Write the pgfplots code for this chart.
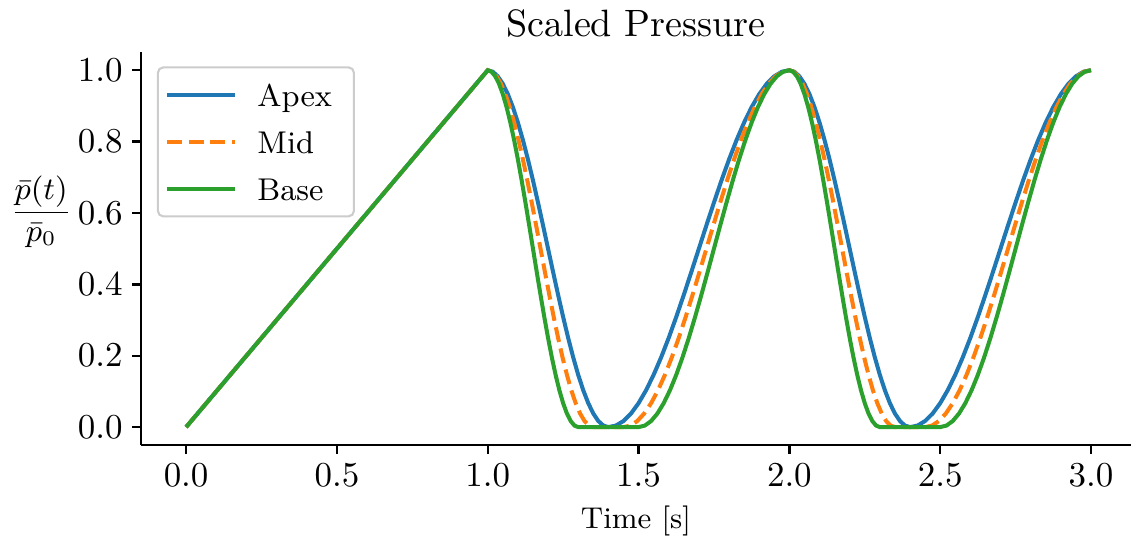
\documentclass[border=0pt]{standalone}
\usepackage{pgfplots}
\pgfplotsset{compat=1.18}
\definecolor{tabblue}{HTML}{1F77B4}
\definecolor{taborange}{HTML}{FF7F0E}
\definecolor{tabgreen}{HTML}{2CA02C}
\begin{document}
\begin{tikzpicture}
\begin{axis}[
  scale only axis,
  width=283.1pt, height=112.3pt,
  xmin=-0.149, xmax=3.132, ymin=-0.05, ymax=1.05,
  axis x line*=bottom, axis y line*=left,
  axis line style={line width=0.7pt},
  tick align=outside, major tick length=2.5pt,
  tick style={line width=0.7pt, black},
  xtick={0,0.5,1,1.5,2,2.5,3},
  ytick={0,0.2,0.4,0.6,0.8,1},
  xticklabel style={inner ysep=2.8pt, /pgf/number format/.cd,fixed,fixed zerofill,precision=1},
  yticklabel style={inner xsep=2.6pt, /pgf/number format/.cd,fixed,fixed zerofill,precision=1},
  every axis title shift=0pt,
  title={Scaled Pressure},
  title style={at={(axis description cs:0.5,1)}, anchor=base, yshift=4.6pt, inner ysep=2.7pt, font=\fontsize{10.9}{13}\selectfont},
  xlabel={Time [s]},
  xlabel style={at={(axis description cs:0.5,0)}, anchor=base, yshift=-24pt, inner ysep=1.4pt, font=\fontsize{8.6}{10}\selectfont},
  ylabel={$\displaystyle\frac{\bar{p}(t)}{\bar{p}_0}$},
  ylabel style={rotate=-90, at={(axis description cs:-0.101,0.5)}, anchor=south, inner xsep=3pt, inner ysep=0pt, font=\fontsize{9}{11}\selectfont},
  legend cell align=left,
  legend style={at={(axis description cs:0,1)}, anchor=north west, xshift=4.5pt, yshift=-4pt,
    draw=black!20, line width=0.6pt, rounded corners=1.5pt, inner xsep=2pt, inner ysep=2.65pt,
    row sep=2.9pt, column sep=5.8pt,
    font=\fontsize{9}{11}\selectfont,
    nodes={inner sep=0pt, text height=8.5pt, text depth=2pt, text width=25.6pt}},
  legend image code/.code={\draw[#1] (0pt,0pt) -- (19.5pt,0pt);},
]
\addplot[tabblue, line width=1.15pt] coordinates {
(0,0) (1,1)
(1.01667,0.99572) (1.03333,0.98296) (1.05,0.96194) (1.06667,0.93301) (1.08333,0.89668) (1.1,0.85355) (1.11667,0.80438) (1.13333,0.75) (1.15,0.69134) (1.16667,0.62941) (1.18333,0.56526) (1.2,0.5) (1.21667,0.43474) (1.23333,0.37059) (1.25,0.30866) (1.26667,0.25) (1.28333,0.19562) (1.3,0.14645) (1.31667,0.10332) (1.33333,0.06699) (1.35,0.03806) (1.36667,0.01704) (1.38333,0.00428) (1.4,0)
(1.425,0.00428) (1.45,0.01704) (1.475,0.03806) (1.5,0.06699) (1.525,0.10332) (1.55,0.14645) (1.575,0.19562) (1.6,0.25) (1.625,0.30866) (1.65,0.37059) (1.675,0.43474) (1.7,0.5) (1.725,0.56526) (1.75,0.62941) (1.775,0.69134) (1.8,0.75) (1.825,0.80438) (1.85,0.85355) (1.875,0.89668) (1.9,0.93301) (1.925,0.96194) (1.95,0.98296) (1.975,0.99572) (2,1)
(2.01667,0.99572) (2.03333,0.98296) (2.05,0.96194) (2.06667,0.93301) (2.08333,0.89668) (2.1,0.85355) (2.11667,0.80438) (2.13333,0.75) (2.15,0.69134) (2.16667,0.62941) (2.18333,0.56526) (2.2,0.5) (2.21667,0.43474) (2.23333,0.37059) (2.25,0.30866) (2.26667,0.25) (2.28333,0.19562) (2.3,0.14645) (2.31667,0.10332) (2.33333,0.06699) (2.35,0.03806) (2.36667,0.01704) (2.38333,0.00428) (2.4,0)
(2.425,0.00428) (2.45,0.01704) (2.475,0.03806) (2.5,0.06699) (2.525,0.10332) (2.55,0.14645) (2.575,0.19562) (2.6,0.25) (2.625,0.30866) (2.65,0.37059) (2.675,0.43474) (2.7,0.5) (2.725,0.56526) (2.75,0.62941) (2.775,0.69134) (2.8,0.75) (2.825,0.80438) (2.85,0.85355) (2.875,0.89668) (2.9,0.93301) (2.925,0.96194) (2.95,0.98296) (2.975,0.99572) (3,1)
};
\addlegendentry{Apex}
\addplot[taborange, line width=1.15pt, dash pattern=on 4.3pt off 1.9pt] coordinates {
(0,0) (1,1)
(1.01458,0.99572) (1.02917,0.98296) (1.04375,0.96194) (1.05833,0.93301) (1.07292,0.89668) (1.0875,0.85355) (1.10208,0.80438) (1.11667,0.75) (1.13125,0.69134) (1.14583,0.62941) (1.16042,0.56526) (1.175,0.5) (1.18958,0.43474) (1.20417,0.37059) (1.21875,0.30866) (1.23333,0.25) (1.24792,0.19562) (1.2625,0.14645) (1.27708,0.10332) (1.29167,0.06699) (1.30625,0.03806) (1.32083,0.01704) (1.33542,0.00428) (1.35,0)
(1.45,0)
(1.47292,0.00428) (1.49583,0.01704) (1.51875,0.03806) (1.54167,0.06699) (1.56458,0.10332) (1.5875,0.14645) (1.61042,0.19562) (1.63333,0.25) (1.65625,0.30866) (1.67917,0.37059) (1.70208,0.43474) (1.725,0.5) (1.74792,0.56526) (1.77083,0.62941) (1.79375,0.69134) (1.81667,0.75) (1.83958,0.80438) (1.8625,0.85355) (1.88542,0.89668) (1.90833,0.93301) (1.93125,0.96194) (1.95417,0.98296) (1.97708,0.99572) (2,1)
(2.01458,0.99572) (2.02917,0.98296) (2.04375,0.96194) (2.05833,0.93301) (2.07292,0.89668) (2.0875,0.85355) (2.10208,0.80438) (2.11667,0.75) (2.13125,0.69134) (2.14583,0.62941) (2.16042,0.56526) (2.175,0.5) (2.18958,0.43474) (2.20417,0.37059) (2.21875,0.30866) (2.23333,0.25) (2.24792,0.19562) (2.2625,0.14645) (2.27708,0.10332) (2.29167,0.06699) (2.30625,0.03806) (2.32083,0.01704) (2.33542,0.00428) (2.35,0)
(2.45,0)
(2.47292,0.00428) (2.49583,0.01704) (2.51875,0.03806) (2.54167,0.06699) (2.56458,0.10332) (2.5875,0.14645) (2.61042,0.19562) (2.63333,0.25) (2.65625,0.30866) (2.67917,0.37059) (2.70208,0.43474) (2.725,0.5) (2.74792,0.56526) (2.77083,0.62941) (2.79375,0.69134) (2.81667,0.75) (2.83958,0.80438) (2.8625,0.85355) (2.88542,0.89668) (2.90833,0.93301) (2.93125,0.96194) (2.95417,0.98296) (2.97708,0.99572) (3,1)
};
\addlegendentry{Mid}
\addplot[tabgreen, line width=1.15pt] coordinates {
(0,0) (1,1)
(1.0125,0.99572) (1.025,0.98296) (1.0375,0.96194) (1.05,0.93301) (1.0625,0.89668) (1.075,0.85355) (1.0875,0.80438) (1.1,0.75) (1.1125,0.69134) (1.125,0.62941) (1.1375,0.56526) (1.15,0.5) (1.1625,0.43474) (1.175,0.37059) (1.1875,0.30866) (1.2,0.25) (1.2125,0.19562) (1.225,0.14645) (1.2375,0.10332) (1.25,0.06699) (1.2625,0.03806) (1.275,0.01704) (1.2875,0.00428) (1.3,0)
(1.5,0)
(1.52083,0.00428) (1.54167,0.01704) (1.5625,0.03806) (1.58333,0.06699) (1.60417,0.10332) (1.625,0.14645) (1.64583,0.19562) (1.66667,0.25) (1.6875,0.30866) (1.70833,0.37059) (1.72917,0.43474) (1.75,0.5) (1.77083,0.56526) (1.79167,0.62941) (1.8125,0.69134) (1.83333,0.75) (1.85417,0.80438) (1.875,0.85355) (1.89583,0.89668) (1.91667,0.93301) (1.9375,0.96194) (1.95833,0.98296) (1.97917,0.99572) (2,1)
(2.0125,0.99572) (2.025,0.98296) (2.0375,0.96194) (2.05,0.93301) (2.0625,0.89668) (2.075,0.85355) (2.0875,0.80438) (2.1,0.75) (2.1125,0.69134) (2.125,0.62941) (2.1375,0.56526) (2.15,0.5) (2.1625,0.43474) (2.175,0.37059) (2.1875,0.30866) (2.2,0.25) (2.2125,0.19562) (2.225,0.14645) (2.2375,0.10332) (2.25,0.06699) (2.2625,0.03806) (2.275,0.01704) (2.2875,0.00428) (2.3,0)
(2.5,0)
(2.52083,0.00428) (2.54167,0.01704) (2.5625,0.03806) (2.58333,0.06699) (2.60417,0.10332) (2.625,0.14645) (2.64583,0.19562) (2.66667,0.25) (2.6875,0.30866) (2.70833,0.37059) (2.72917,0.43474) (2.75,0.5) (2.77083,0.56526) (2.79167,0.62941) (2.8125,0.69134) (2.83333,0.75) (2.85417,0.80438) (2.875,0.85355) (2.89583,0.89668) (2.91667,0.93301) (2.9375,0.96194) (2.95833,0.98296) (2.97917,0.99572) (3,1)
};
\addlegendentry{Base}
\end{axis}
\end{tikzpicture}
\end{document}
